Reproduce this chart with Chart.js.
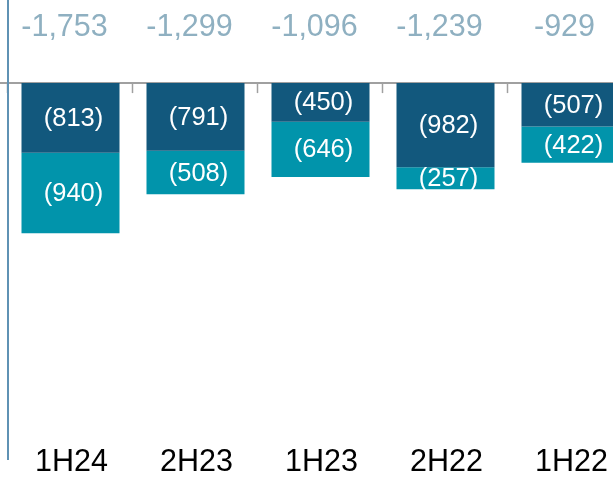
<!DOCTYPE html>
<html>
<head>
<meta charset="utf-8">
<script src="https://cdn.jsdelivr.net/npm/chart.js@4/dist/chart.umd.min.js"></script>
<style>
  html, body { margin: 0; padding: 0; background: #fff; overflow: hidden; }
  #wrap { width: 613px; height: 478px; overflow: hidden; position: relative; }
  canvas { display: block; }
</style>
</head>
<body>
<div id="wrap"><canvas id="c" width="640" height="478"></canvas></div>
<script>
const categories = ['1H24', '2H23', '1H23', '2H22', '1H22'];
const seriesDark = [-813, -791, -450, -982, -507];
const seriesTeal = [-940, -508, -646, -257, -422];
const totals = [-1753, -1299, -1096, -1239, -929];
const yMin = -4400;
const yMax = 970;

const FONT = '"Liberation Sans", Arial, sans-serif';

function fmtParen(v) { return '(' + Math.abs(v).toLocaleString('en-US') + ')'; }
function fmtTotal(v) { return '-' + Math.abs(v).toLocaleString('en-US'); }

const decor = {
  id: 'decor',
  beforeDatasetsDraw(chart) {
    const { ctx, chartArea, scales } = chart;
    const y0 = scales.y.getPixelForValue(0);
    ctx.save();
    ctx.strokeStyle = '#a0a0a0';
    ctx.lineWidth = 2;
    ctx.beginPath();
    ctx.moveTo(0, y0);
    ctx.lineTo(chart.width, y0);
    ctx.stroke();
    ctx.lineWidth = 1.5;
    const n = categories.length;
    const step = (chartArea.right - chartArea.left) / n;
    for (let i = 0; i <= n; i++) {
      const x = Math.round(chartArea.left + step * i) - 0.5;
      ctx.beginPath();
      ctx.moveTo(x, y0);
      ctx.lineTo(x, y0 + 10);
      ctx.stroke();
    }
    ctx.strokeStyle = '#5f92b4';
    ctx.lineWidth = 2;
    ctx.beginPath();
    ctx.moveTo(chartArea.left, 0);
    ctx.lineTo(chartArea.left, chartArea.bottom);
    ctx.stroke();
    ctx.restore();
  },
  afterDatasetsDraw(chart) {
    const { ctx, scales } = chart;
    ctx.save();
    ctx.textAlign = 'center';
    ctx.textBaseline = 'middle';
    ctx.font = '25.5px ' + FONT;
    ctx.fillStyle = '#ffffff';
    chart.data.datasets.forEach((ds, di) => {
      const meta = chart.getDatasetMeta(di);
      meta.data.forEach((bar, i) => {
        const yc = (bar.y + bar.base) / 2;
        ctx.fillText(fmtParen(ds.data[i]), bar.x + 3, yc + 1);
      });
    });
    ctx.font = '30.5px ' + FONT;
    ctx.fillStyle = '#8fb0c1';
    totals.forEach((t, i) => {
      const x = scales.x.getPixelForValue(i);
      ctx.fillText(fmtTotal(t), x - 6, 28);
    });
    ctx.font = '30.5px ' + FONT;
    ctx.fillStyle = '#000000';
    categories.forEach((c, i) => {
      const x = scales.x.getPixelForValue(i);
      ctx.fillText(c, x + 1, 463);
    });
    ctx.restore();
  }
};

new Chart(document.getElementById('c'), {
  type: 'bar',
  data: {
    labels: categories,
    datasets: [
      { label: 'A', data: seriesDark, backgroundColor: '#12587d', borderWidth: 0 },
      { label: 'B', data: seriesTeal, backgroundColor: '#0194ab', borderWidth: 0 }
    ]
  },
  options: {
    responsive: false,
    animation: false,
    devicePixelRatio: 1,
    layout: { padding: { left: 8, right: 7, top: 0, bottom: 18 } },
    plugins: { legend: { display: false }, tooltip: { enabled: false } },
    datasets: { bar: { barPercentage: 0.784, categoryPercentage: 1 } },
    scales: {
      x: { stacked: true, display: false },
      y: { stacked: true, display: false, min: yMin, max: yMax }
    }
  },
  plugins: [decor]
});
</script>
</body>
</html>
